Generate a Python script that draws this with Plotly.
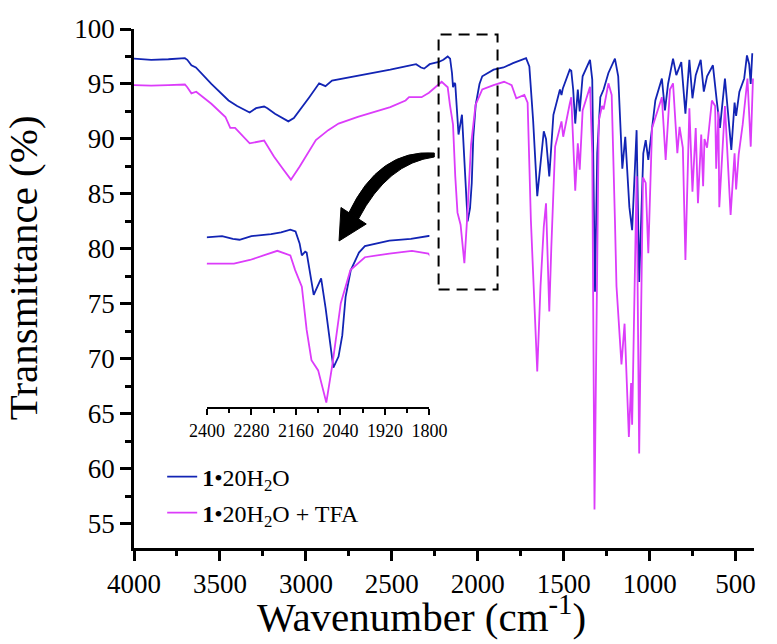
import plotly.graph_objects as go

# ---------------- data ----------------
wn_blue = [4000, 3900, 3800, 3704, 3690, 3666, 3640, 3550, 3450, 3400, 3327, 3290, 3243, 3224,
           3180, 3102, 3070, 3036, 2980, 2923, 2886, 2848, 2780, 2698, 2600, 2509, 2420, 2359,
           2330, 2312, 2280, 2227, 2200, 2175, 2161, 2150, 2144, 2135, 2131, 2112, 2092, 2080,
           2059, 2045, 2035, 2026, 2012, 1990, 1974, 1908, 1850, 1795, 1719, 1700, 1678, 1654,
           1635, 1616, 1603, 1584, 1560, 1530, 1522, 1513, 1505, 1465, 1456, 1445, 1433, 1418,
           1407, 1390, 1347, 1334, 1321, 1318, 1305, 1287, 1268, 1240, 1202, 1183, 1159, 1142,
           1118, 1102, 1076, 1061, 1037, 1023, 1008, 986, 967, 929, 911, 893, 864, 845, 816,
           792, 769, 751, 732, 703, 685, 666, 632, 610, 591, 562, 543, 525, 506, 497, 478, 450,
           434, 421, 412, 403]
t_blue = [97.3, 97.2, 97.25, 97.35, 97.2, 96.7, 96.5, 95.0, 93.5, 93.0, 92.4, 92.8, 92.95, 92.8,
          92.3, 91.6, 91.9, 92.6, 93.8, 95.06, 94.8, 95.3, 95.5, 95.7, 96.0, 96.3, 96.6, 96.8,
          96.5, 96.4, 96.8, 97.0, 97.2, 97.5, 97.3, 96.0, 94.7, 95.1, 95.0, 90.4, 92.2, 89.0,
          82.5, 83.7, 86.0, 90.2, 93.1, 95.0, 95.7, 96.3, 96.5, 96.9, 97.35, 96.6, 91.7, 84.8,
          88.1, 90.7, 90.0, 86.6, 92.2, 94.2, 94.5, 94.0, 94.6, 96.3, 96.2, 94.5, 91.4, 94.5,
          92.5, 95.7, 97.2, 95.4, 82.0, 76.1, 88.7, 93.8, 94.5, 96.0, 97.3, 95.7, 87.3, 90.2,
          83.8, 81.7, 90.8, 77.0, 88.7, 89.9, 88.1, 91.1, 93.5, 95.5, 92.6, 95.0, 97.3, 95.8, 97.0,
          92.3, 97.2, 93.7, 95.8, 97.2, 94.3, 95.7, 96.7, 93.5, 91.0, 95.5, 92.3, 89.0, 93.3, 92.1,
          94.3, 95.5, 97.6, 96.8, 95.0, 97.8]

wn_mag = [4000, 3900, 3800, 3704, 3690, 3666, 3638, 3550, 3468, 3440, 3412, 3370, 3327, 3243,
          3186, 3130, 3087, 3036, 2942, 2870, 2810, 2698, 2600, 2509, 2420, 2400, 2327, 2284,
          2210, 2175, 2162, 2144, 2131, 2118, 2100, 2078, 2061, 2039, 2013, 1974, 1908, 1847,
          1803, 1776, 1729, 1710, 1691, 1667, 1654, 1635, 1616, 1603, 1594, 1584, 1572, 1550,
          1513, 1503, 1465, 1456, 1433, 1418, 1407, 1390, 1347, 1334, 1321, 1309, 1296, 1277,
          1268, 1240, 1221, 1202, 1193, 1164, 1146, 1121, 1108, 1102, 1076, 1061, 1039, 1023,
          1008, 986, 967, 929, 907, 882, 864, 839, 826, 807, 792, 769, 751, 732, 719, 700, 689,
          681, 666, 638, 619, 613, 600, 595, 562, 529, 506, 497, 482, 459, 431, 412, 399]
t_mag = [94.9, 94.85, 94.9, 94.95, 94.7, 94.15, 94.3, 93.2, 92.0, 91.0, 91.0, 90.3, 89.6, 89.85,
         88.4, 87.2, 86.3, 87.5, 89.9, 90.8, 91.4, 92.0, 92.5, 92.9, 93.5, 93.8, 93.8, 94.2,
         95.2, 94.7, 93.1, 91.3, 86.6, 83.3, 82.2, 78.7, 83.0, 89.5, 93.1, 94.5, 94.9, 95.2,
         94.9, 93.7, 94.0, 93.3, 82.6, 73.5, 68.85, 76.6, 82.0, 84.15, 80.0, 74.3, 80.2, 89.3,
         91.6, 90.2, 93.2, 93.8, 85.3, 89.6, 87.2, 92.6, 94.75, 88.7, 56.3, 75.0, 91.7, 93.0,
         92.7, 95.06, 94.0, 82.6, 76.6, 69.5, 73.2, 62.9, 67.8, 64.0, 86.6, 61.4, 86.5, 86.0,
         79.6, 91.0, 92.0, 93.8, 88.1, 94.5, 95.06, 88.7, 91.1, 89.2, 79.0, 92.8, 85.2, 91.0,
         84.15, 90.4, 85.7, 90.0, 89.2, 93.5, 93.0, 87.3, 92.5, 83.8, 93.0, 83.1, 88.7, 85.4,
         88.6, 91.3, 95.5, 89.3, 95.5]

names = ["<b>1</b>•20H<sub>2</sub>O", "<b>1</b>•20H<sub>2</sub>O + TFA"]
colors = ["#1224B4", "#DC3CFA"]

x_ticks_main = [4000, 3500, 3000, 2500, 2000, 1500, 1000, 500]
y_ticks_main = [55, 60, 65, 70, 75, 80, 85, 90, 95, 100]
x_ticks_inset = [2400, 2280, 2160, 2040, 1920, 1800]

FONT = "Liberation Serif"
W, H = 777, 644
L, R, T, B = 134, 772, 29, 548   # plot area in pixels


def px(x):
    return (x - L) / (R - L)


def py(y):
    return (B - y) / (B - T)


fig = go.Figure()
series = [(wn_blue, t_blue), (wn_mag, t_mag)]
for i, (xs, ys) in enumerate(series):
    fig.add_trace(go.Scatter(x=xs, y=ys, mode="lines", name=names[i],
                             line=dict(color=colors[i], width=1.8),
                             legend="legend" if i == 0 else "legend2"))
for i, (xs, ys) in enumerate(series):
    fig.add_trace(go.Scatter(x=xs, y=ys, mode="lines", showlegend=False,
                             line=dict(color=colors[i], width=1.8),
                             xaxis="x2", yaxis="y2"))

axis_common = dict(showline=True, linecolor="black", linewidth=2.5, ticks="outside",
                   tickcolor="black", tickwidth=2.5, showgrid=False, zeroline=False,
                   tickfont=dict(family=FONT, size=27, color="black"))

fig.update_layout(
    width=W, height=H,
    margin=dict(l=L, r=W - R, t=T, b=H - B),
    plot_bgcolor="white", paper_bgcolor="white",
    font=dict(family=FONT, color="black"),
    xaxis=dict(range=[4000, 393], tickvals=x_ticks_main, ticklen=10,
               minor=dict(dtick=250, ticklen=5, tickwidth=2.5, tickcolor="black", ticks="outside"),
               domain=[0, 1], **axis_common),
    yaxis=dict(range=[52.8, 100], tickvals=y_ticks_main, ticklen=11,
               minor=dict(dtick=2.5, ticklen=6, tickwidth=2.5, tickcolor="black", ticks="outside"),
               **axis_common),
    xaxis2=dict(range=[2400, 1800], tickvals=x_ticks_inset, anchor="y2",
                domain=[px(209), px(438)], showline=True, linecolor="black", linewidth=2,
                ticks="outside", ticklen=6, tickwidth=2, tickcolor="black", showgrid=False,
                zeroline=False,
                minor=dict(dtick=60, ticklen=4, tickwidth=2, tickcolor="black", ticks="outside"),
                tickfont=dict(family=FONT, size=18, color="black")),
    yaxis2=dict(range=[78.22, 99.09], anchor="x2", domain=[py(407), py(215)],
                visible=False),
    legend=dict(x=px(163), y=py(477), xanchor="left", yanchor="middle",
                font=dict(family=FONT, size=24, color="black"), bgcolor="rgba(0,0,0,0)"),
    legend2=dict(x=px(163), y=py(513), xanchor="left", yanchor="middle",
                 font=dict(family=FONT, size=24, color="black"), bgcolor="rgba(0,0,0,0)"),
    showlegend=True,
)

# axis titles as annotations
fig.add_annotation(x=px(430), y=py(614), xref="paper", yref="paper", showarrow=False,
                   text="Wavenumber (cm<sup>-1</sup>)", font=dict(family=FONT, size=41, color="black"),
                   xanchor="center", yanchor="middle")
fig.add_annotation(x=px(20), y=py(268), xref="paper", yref="paper", showarrow=False,
                   text="Transmittance (%)", textangle=-90,
                   font=dict(family=FONT, size=41, color="black"),
                   xanchor="center", yanchor="middle")

# dashed box around the zoomed region
fig.add_shape(type="rect", xref="x", yref="y", x0=2228, x1=1885, y0=76.3, y1=99.5,
              line=dict(color="black", width=2, dash="11px,7px"))

# curved arrow (pixel coordinates converted to paper)
def P(x, y):
    return f"{px(x):.5f},{py(y):.5f}"

body = (f"M {P(443,153)} Q {P(386,149)} {P(355,213)} "
        f"L {P(365,219)} Q {P(395,163)} {P(443,157)} Z")
head = f"M {P(373,224)} L {P(345,241)} L {P(347,207.5)} Z"
for pth in (body, head):
    fig.add_shape(type="path", xref="paper", yref="paper", path=pth,
                  fillcolor="black", line=dict(color="black", width=1))

fig.write_html("out.html")
